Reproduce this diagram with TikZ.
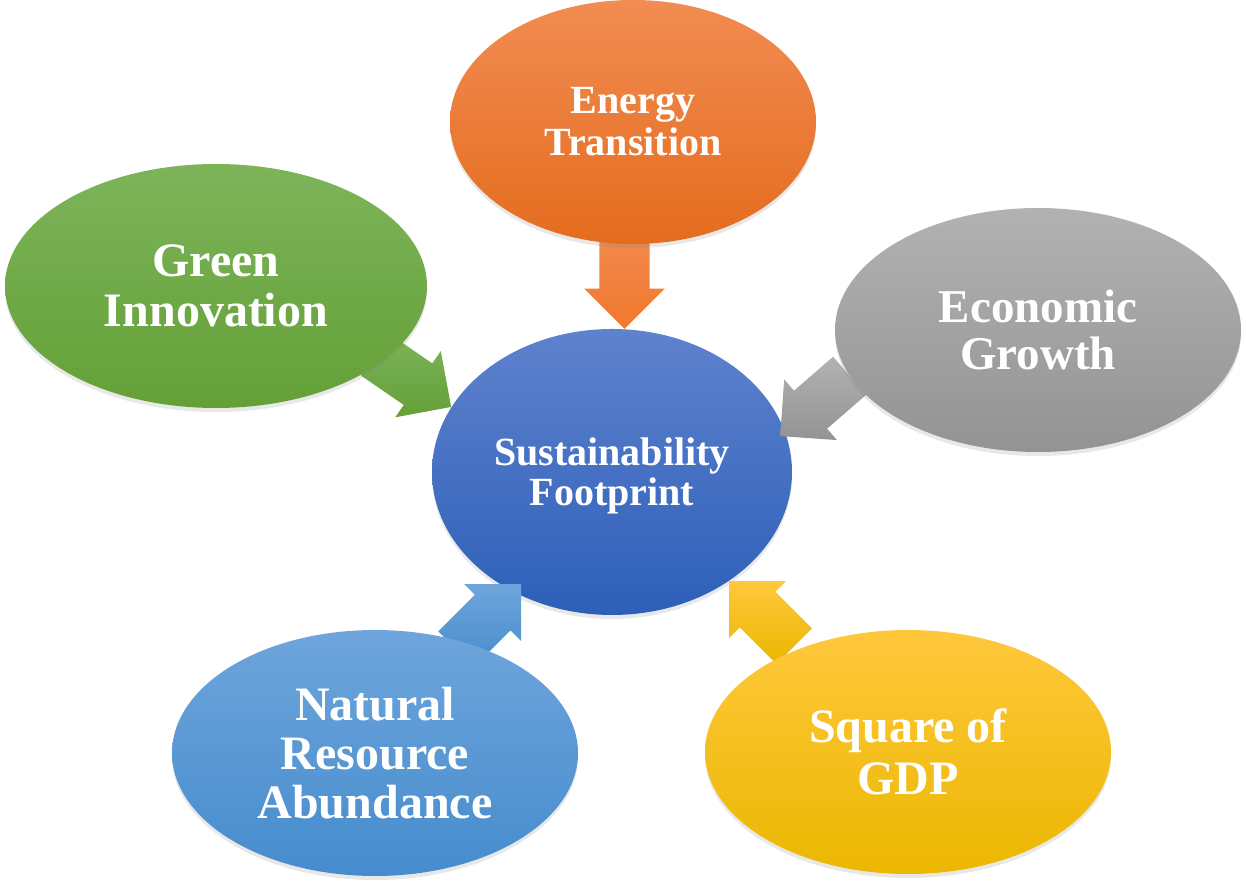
\documentclass[tikz,border=0pt]{standalone}
\usepackage{fontspec}
\setmainfont{Liberation Serif}
\usetikzlibrary{shapes.geometric,shapes.arrows,shadows,calc}
\definecolor{orTop}{HTML}{F28C52}
\definecolor{orBot}{HTML}{E46C1E}
\definecolor{oaTop}{HTML}{F28A4E}
\definecolor{oaBot}{HTML}{F0782C}
\definecolor{grTop}{HTML}{7DB45A}
\definecolor{grBot}{HTML}{64A037}
\definecolor{gyTop}{HTML}{B2B2B2}
\definecolor{gyBot}{HTML}{939393}
\definecolor{lbTop}{HTML}{6EA5DC}
\definecolor{lbBot}{HTML}{468CCD}
\definecolor{yeTop}{HTML}{FFC83C}
\definecolor{yeBot}{HTML}{EBB700}
\definecolor{bcTop}{HTML}{5F82CD}
\definecolor{bcBot}{HTML}{2D5FB9}
\begin{document}
\begin{tikzpicture}[x=1pt,y=1pt,
  bubble/.style={ellipse, inner sep=0pt, text=white, align=center,
    font=\bfseries\fontsize{48}{50}\selectfont,
    drop shadow={shadow xshift=0pt,shadow yshift=-4pt,opacity=0.18}},
  blockarrow/.style={single arrow, single arrow head extend=15pt,
    single arrow tip angle=90, minimum height=92pt,
    inner xsep=0pt, inner ysep=25pt, anchor=tip},
]
\useasboundingbox (0,0) rectangle (1246,888);

% centre
\node[bubble, minimum width=360pt, minimum height=286pt,
  top color=bcTop, bottom color=bcBot, text depth=0pt,
  font=\bfseries\fontsize{40}{40}\selectfont] (c) at (612,416)
  {Sustainability\\Footprint};

% arrow tips on the centre ellipse
\coordinate (tO) at (c.85);
\coordinate (tG) at (c.158);
\coordinate (tE) at ($(c.center)!0.965!(c.12)$);
\coordinate (tN) at ($(c.center)!0.93!(c.231)$);
\coordinate (tS) at (c.317);

\node[blockarrow, rotate=-90, top color=oaTop, bottom color=oaBot] (aO) at (tO) {};
\node[blockarrow, rotate=-34.5, top color=grTop, bottom color=grBot] (aG) at (tG) {};
\node[blockarrow, rotate=221, top color=gyTop, bottom color=gyBot] (aE) at (tE) {};
\node[blockarrow, rotate=45, top color=lbTop, bottom color=lbBot] (aN) at (tN) {};
\node[blockarrow, rotate=135, top color=yeTop, bottom color=yeBot] (aS) at (tS) {};

% outer ellipses
\node[bubble, minimum width=366pt, minimum height=244pt,
  top color=orTop, bottom color=orBot,
  font=\bfseries\fontsize{40}{42}\selectfont] (o) at (633,766) {Energy\\Transition};
\node[bubble, minimum width=422pt, minimum height=244pt,
  top color=grTop, bottom color=grBot] (g) at (216,602) {Green\\Innovation};
\node[bubble, minimum width=406pt, minimum height=244pt,
  top color=gyTop, bottom color=gyBot,
  font=\bfseries\fontsize{47}{47}\selectfont] (e) at (1038,558) {Economic\\Growth};
\node[bubble, minimum width=406pt, minimum height=246pt,
  top color=lbTop, bottom color=lbBot,
  font=\bfseries\fontsize{48}{49}\selectfont] (n) at (375,135) {Natural\\Resource\\Abundance};
\node[bubble, minimum width=406pt, minimum height=244pt,
  top color=yeTop, bottom color=yeBot,
  font=\bfseries\fontsize{48}{52}\selectfont] (s) at (908,136) {Square of\\GDP};
\end{tikzpicture}
\end{document}
